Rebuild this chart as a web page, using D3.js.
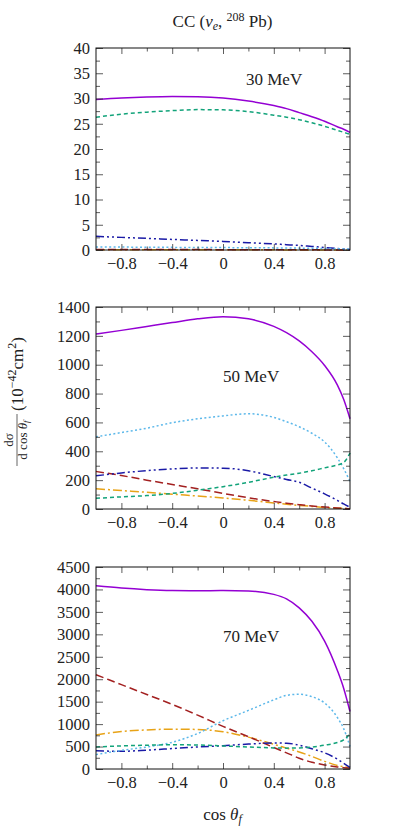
<!DOCTYPE html>
<html>
<head>
<meta charset="utf-8">
<script src="https://cdn.jsdelivr.net/npm/d3@7"></script>
<style>
  html, body { margin: 0; padding: 0; background: #fff; }
  svg text { font-family: "Liberation Serif", "DejaVu Serif", serif; fill: #222; }
</style>
</head>
<body>
<svg class="ccPlot" width="394" height="834"></svg>
<script>
// cos(theta_f) sampling grid shared by all curves
const cosGrid = [-1, -0.8, -0.6, -0.4, -0.2, 0, 0.2, 0.4, 0.5, 0.6, 0.7, 0.8, 0.9, 0.95, 1];

// 30 MeV
const total30  = [29.8, 30.1, 30.3, 30.4, 30.35, 30.1, 29.5, 28.6, 28.0, 27.2, 26.4, 25.5, 24.4, 23.9, 23.3];
const green30  = [26.3, 26.9, 27.3, 27.6, 27.8, 27.75, 27.4, 26.7, 26.3, 25.8, 25.2, 24.5, 23.7, 23.3, 22.9];
const sky30    = [0.6, 0.58, 0.55, 0.52, 0.5, 0.48, 0.45, 0.42, 0.4, 0.37, 0.34, 0.3, 0.25, 0.22, 0.2];
const navy30   = [2.7, 2.5, 2.3, 2.1, 1.9, 1.7, 1.45, 1.2, 1.05, 0.9, 0.7, 0.5, 0.3, 0.2, 0.1];
const red30    = [0.12, 0.11, 0.1, 0.09, 0.08, 0.07, 0.06, 0.05, 0.04, 0.04, 0.03, 0.02, 0.01, 0.01, 0];
const orange30 = [0.06, 0.06, 0.05, 0.05, 0.04, 0.04, 0.03, 0.03, 0.02, 0.02, 0.02, 0.01, 0.01, 0, 0];

// 50 MeV
const total50  = [1213, 1238, 1265, 1292, 1318, 1333, 1318, 1266, 1222, 1165, 1090, 995, 860, 760, 625];
const green50  = [74, 84, 93, 108, 130, 155, 185, 220, 235, 248, 265, 285, 305, 322, 388];
const sky50    = [500, 530, 560, 598, 625, 645, 660, 635, 605, 570, 525, 465, 355, 280, 190];
const navy50   = [230, 250, 266, 278, 284, 283, 265, 225, 205, 185, 145, 105, 60, 35, 12];
const red50    = [260, 232, 200, 170, 140, 108, 78, 52, 40, 30, 21, 14, 7, 4, 2];
const orange50 = [140, 128, 116, 103, 90, 77, 60, 42, 33, 25, 18, 11, 6, 4, 2];

// 70 MeV
const total70  = [4080, 4030, 3995, 3975, 3970, 3975, 3965, 3890, 3790, 3590, 3290, 2850, 2200, 1800, 1280];
const green70  = [490, 515, 530, 540, 535, 515, 490, 470, 465, 470, 490, 530, 590, 650, 780];
const sky70    = [320, 415, 490, 595, 790, 1075, 1305, 1540, 1640, 1665, 1610, 1470, 1150, 900, 500];
const navy70   = [405, 395, 420, 455, 490, 520, 555, 580, 575, 530, 450, 360, 220, 130, 35];
const red70    = [2100, 1880, 1660, 1440, 1200, 950, 720, 480, 360, 240, 150, 90, 45, 30, 20];
const orange70 = [760, 835, 870, 888, 880, 830, 710, 550, 465, 380, 280, 170, 80, 50, 25];

const xMajorTicks = [-0.8, -0.4, 0, 0.4, 0.8];
const xMinorTicks = [-0.6, -0.2, 0.2, 0.6];
const yTicks30 = [0, 5, 10, 15, 20, 25, 30, 35, 40];
const yTicks50 = [0, 200, 400, 600, 800, 1000, 1200, 1400];
const yTicks70 = [0, 500, 1000, 1500, 2000, 2500, 3000, 3500, 4000, 4500];
const energyLabels = ["30 MeV", "50 MeV", "70 MeV"];

const lineStyles = [
    {color: "#9400d3", dash: null},           // total
    {color: "#12a37a", dash: "4,3"},          // green dashed
    {color: "#5cb8ea", dash: "2,2.4"},        // dotted
    {color: "#1a1aa6", dash: "8,3,2,3,2,3"},  // dash-dot-dot
    {color: "#a32020", dash: "8,4"},          // long dash
    {color: "#e8a317", dash: "9,3,2,3"}       // dash-dot
];

const panels = [
    {top: 48,  ticks: yTicks30, series: [total30, green30, sky30, navy30, red30, orange30]},
    {top: 307, ticks: yTicks50, series: [total50, green50, sky50, navy50, red50, orange50]},
    {top: 567, ticks: yTicks70, series: [total70, green70, sky70, navy70, red70, orange70]}
];

const left = 96, width = 254, height = 202;
const svg = d3.select(".ccPlot");

const x = d3.scaleLinear().domain([-1, 1]).range([0, width]);

function midpoints(arr){
    const out = [];
    for (let i = 0; i < arr.length - 1; i++) out.push((arr[i] + arr[i + 1]) / 2);
    return out;
}

function drawPanel(p, idx){
    const g = svg.append("g").attr("transform", `translate(${left},${p.top})`);
    const yMax = p.ticks[p.ticks.length - 1];
    const y = d3.scaleLinear().domain([0, yMax]).range([height, 0]);
    const yMinor = midpoints(p.ticks);

    // curves
    const line = d3.line()
        .x((d, i) => x(cosGrid[i]))
        .y(d => y(d))
        .curve(d3.curveMonotoneX);

    p.series.slice().reverse().forEach((vals, k) => {
        const st = lineStyles[p.series.length - 1 - k];
        g.append("path")
            .datum(vals)
            .attr("d", line)
            .attr("fill", "none")
            .attr("stroke", st.color)
            .attr("stroke-width", 1.5)
            .attr("stroke-dasharray", st.dash);
    });

    // axes, ticks pointing inward
    g.append("g").attr("transform", `translate(0,${height})`)
        .call(d3.axisBottom(x).tickValues(xMajorTicks).tickSize(-6).tickSizeOuter(0).tickPadding(7)
            .tickFormat(d3.format("")));
    g.append("g").attr("transform", `translate(0,${height})`)
        .call(d3.axisBottom(x).tickValues(xMinorTicks).tickSize(-3.5).tickSizeOuter(0).tickFormat(""));
    g.append("g")
        .call(d3.axisTop(x).tickValues(xMajorTicks).tickSize(-6).tickSizeOuter(0).tickFormat(""));
    g.append("g")
        .call(d3.axisTop(x).tickValues(xMinorTicks).tickSize(-3.5).tickSizeOuter(0).tickFormat(""));

    g.append("g")
        .call(d3.axisLeft(y).tickValues(p.ticks).tickSize(-7).tickSizeOuter(0).tickPadding(6)
            .tickFormat(d3.format("")));
    g.append("g")
        .call(d3.axisLeft(y).tickValues(yMinor).tickSize(-4).tickSizeOuter(0).tickFormat(""));
    g.append("g").attr("transform", `translate(${width},0)`)
        .call(d3.axisRight(y).tickValues(p.ticks).tickSize(-7).tickSizeOuter(0).tickFormat(""));
    g.append("g").attr("transform", `translate(${width},0)`)
        .call(d3.axisRight(y).tickValues(yMinor).tickSize(-4).tickSizeOuter(0).tickFormat(""));

    g.selectAll(".domain").remove();
    g.selectAll(".tick line").attr("stroke", "#333").attr("stroke-width", 0.8);
    g.selectAll(".tick text")
        .style("font-size", "16.5px")
        .style("font-family", "'Liberation Serif', serif")
        .attr("fill", "#222");

    g.append("rect")
        .attr("width", width)
        .attr("height", height)
        .attr("fill", "none")
        .attr("stroke", "#111")
        .attr("stroke-width", 1);

    g.append("text")
        .attr("x", idx === 0 ? 150 : 127)
        .attr("y", idx === 0 ? 37 : 75)
        .style("font-size", "17px")
        .text(energyLabels[idx]);
}

panels.forEach(drawPanel);

// title
const title = svg.append("text")
    .attr("x", 222.5)
    .attr("y", 27)
    .attr("text-anchor", "middle")
    .style("font-size", "17px");
title.append("tspan").text("CC (");
title.append("tspan").style("font-style", "italic").text("ν");
title.append("tspan").attr("dy", 3).style("font-size", "12px").style("font-style", "italic").text("e");
title.append("tspan").attr("dy", -3).text(", ");
title.append("tspan").attr("dy", -6).style("font-size", "12px").text("208");
title.append("tspan").attr("dy", 6).text(" Pb)");

// x label
const xLabel = svg.append("text")
    .attr("x", 222.5)
    .attr("y", 820)
    .attr("text-anchor", "middle")
    .style("font-size", "17px");
xLabel.append("tspan").text("cos ");
xLabel.append("tspan").style("font-style", "italic").text("θ");
xLabel.append("tspan").attr("dy", 3).style("font-size", "12px").style("font-style", "italic").text("f");

// y label (rotated), fraction + units
const yl = svg.append("g").attr("transform", "translate(17,440) rotate(-90)");
yl.append("text")
    .attr("x", 0).attr("y", -4)
    .attr("text-anchor", "middle")
    .style("font-size", "13px")
    .text("dσ");
yl.append("line")
    .attr("x1", -26).attr("x2", 26)
    .attr("y1", 0).attr("y2", 0)
    .attr("stroke", "#222").attr("stroke-width", 0.7);
const den = yl.append("text")
    .attr("x", 0).attr("y", 10)
    .attr("text-anchor", "middle")
    .style("font-size", "13px");
den.append("tspan").text("d cos ");
den.append("tspan").style("font-style", "italic").text("θ");
den.append("tspan").attr("dy", 2).style("font-size", "9px").style("font-style", "italic").text("f");

const units = yl.append("text")
    .attr("x", 29).attr("y", 6)
    .style("font-size", "17px");
units.append("tspan").text("(10");
units.append("tspan").attr("dy", -7).style("font-size", "12px").text("−42");
units.append("tspan").attr("dy", 7).text("cm");
units.append("tspan").attr("dy", -7).style("font-size", "12px").text("2");
units.append("tspan").attr("dy", 7).text(")");
</script>
</body>
</html>
